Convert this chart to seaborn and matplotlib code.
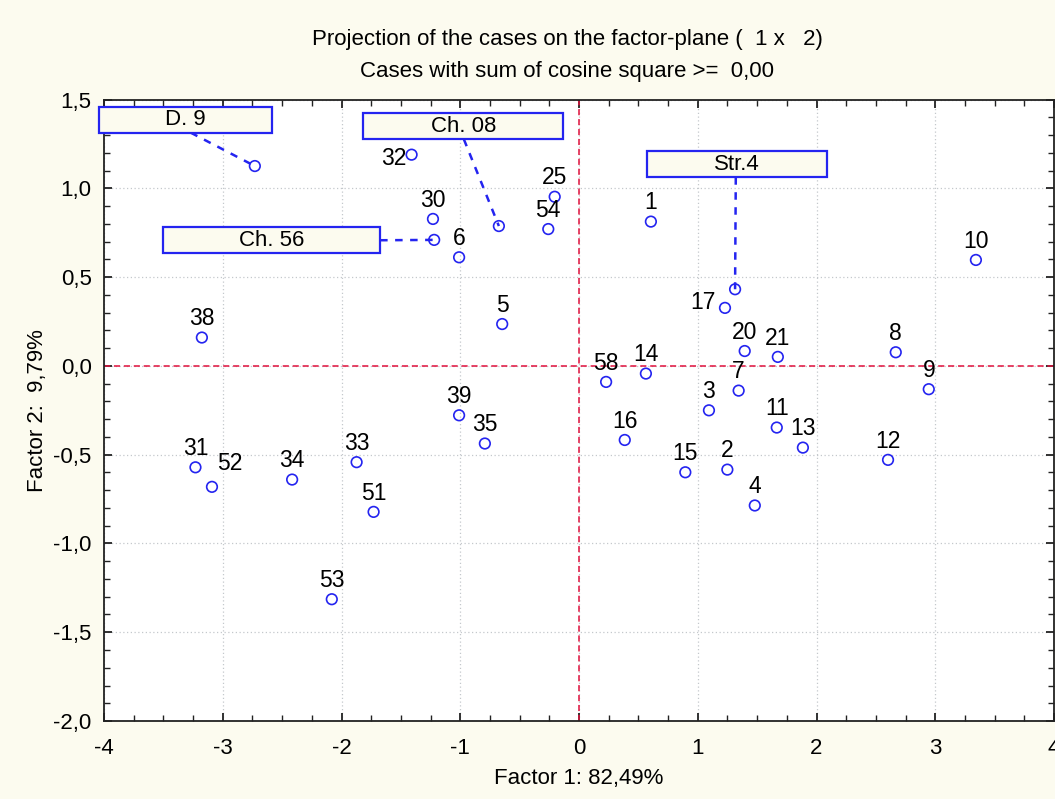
import matplotlib
matplotlib.use("Agg")
import matplotlib.pyplot as plt
import matplotlib.ticker as mticker
from matplotlib.patches import Rectangle
import numpy as np
import pandas as pd
import seaborn as sns

# Case coordinates on the first two factors
case_labels = ['1', '2', '3', '4', '5', '6', '7', '8', '9', '10', '11', '12', '13',
               '14', '15', '16', '17', '20', '21', '25', '30', '31', '32', '33',
               '34', '35', '38', '39', '51', '52', '53', '54', '58',
               'D. 9', 'Ch. 08', 'Ch. 56', 'Str.4']
factor1 = [0.605, 1.249, 1.094, 1.480, -0.647, -1.010, 1.344, 2.667, 2.945, 3.342,
           1.665, 2.602, 1.885, 0.563, 0.895, 0.385, 1.229, 1.395, 1.674, -0.205,
           -1.230, -3.230, -1.410, -1.873, -2.416, -0.793, -3.176, -1.010, -1.730,
           -3.091, -2.082, -0.259, 0.228,
           -2.730, -0.675, -1.220, 1.314]
factor2 = [0.813, -0.584, -0.250, -0.786, 0.236, 0.612, -0.139, 0.077, -0.131, 0.597,
           -0.347, -0.529, -0.460, -0.043, -0.599, -0.417, 0.327, 0.084, 0.051, 0.953,
           0.828, -0.571, 1.190, -0.542, -0.640, -0.437, 0.160, -0.278, -0.822,
           -0.681, -1.314, 0.771, -0.090,
           1.126, 0.788, 0.710, 0.432]

# Cases shown with a framed callout instead of a plain number
callout_cases = ['D. 9', 'Ch. 08', 'Ch. 56', 'Str.4']

title_lines = ["Projection of the cases on the factor-plane (  1 x   2)",
               "Cases with sum of cosine square >=  0,00"]
x_title = "Factor 1: 82,49%"
y_title = "Factor 2:  9,79%"

df = pd.DataFrame({"case": case_labels, "f1": factor1, "f2": factor2})

BG = "#FCFBEF"
BLUE = "#2424F0"
RED = "#E0103C"

sns.set_style("ticks")
plt.rcParams["font.family"] = ["Liberation Sans", "DejaVu Sans"]
plt.rcParams["axes.linewidth"] = 1.3
plt.rcParams["text.color"] = "black"
plt.rcParams["axes.labelcolor"] = "black"

fig = plt.figure(figsize=(10.55, 7.99), dpi=100, facecolor=BG)
ax = fig.add_axes([0.0986, 0.0976, 0.9005, 0.7777])
ax.set_facecolor("white")

sns.scatterplot(data=df, x="f1", y="f2", ax=ax, marker="o", s=58,
                facecolors="none", edgecolor=BLUE, linewidth=1.2, zorder=4,
                legend=False)

ax.set_xlim(-4, 4)
ax.set_ylim(-2, 1.5)
ax.xaxis.set_major_locator(mticker.MultipleLocator(1))
ax.xaxis.set_minor_locator(mticker.MultipleLocator(0.25))
ax.yaxis.set_major_locator(mticker.MultipleLocator(0.5))
ax.yaxis.set_minor_locator(mticker.MultipleLocator(0.1))
ax.xaxis.set_major_formatter(mticker.FuncFormatter(lambda v, p: f"{v:.0f}"))
ax.yaxis.set_major_formatter(
    mticker.FuncFormatter(lambda v, p: f"{v:.1f}".replace(".", ",")))
ax.tick_params(which="both", direction="in", top=True, right=True,
               color="#222222", labelsize=16, labelcolor="black")
ax.tick_params(which="major", length=6, width=1.3)
ax.tick_params(axis="x", which="major", pad=12)
ax.tick_params(axis="y", which="major", pad=9)
ax.tick_params(which="minor", length=4, width=1.0)
for s in ax.spines.values():
    s.set_color("#222222")

ax.grid(True, which="major", linestyle=(0, (1, 2)), color="#C4C8CC", linewidth=0.9)
ax.axhline(0, color=RED, linestyle=(0, (4, 2.5)), linewidth=1.1, zorder=2)
ax.axvline(0, color=RED, linestyle=(0, (4, 2.5)), linewidth=1.1, zorder=2)

ax.set_xlabel(x_title, fontsize=16, labelpad=7)
ax.set_ylabel(y_title, fontsize=16, labelpad=4)

# Number labels: centred above the marker, a few shifted sideways
label_offsets = {'32': (-4, -3, 'right'), '17': (-7, 4, 'right'),
                 '52': (13, 17, 'center')}
for lab, x, y in zip(case_labels, factor1, factor2):
    if lab in callout_cases:
        continue
    dx, dy, ha = label_offsets.get(lab, (0, 13.5, 'center'))
    ax.annotate(lab, (x, y), xytext=(dx, dy), textcoords="offset points",
                ha=ha, va="center", fontsize=16.5, color="black", zorder=5)

# Framed callouts: box centre, box width and where the leader line leaves it
callout_layout = {
    'D. 9':   dict(cx=-3.312, cy=1.387, w=1.46, ax_=-3.27, ay=1.314),
    'Ch. 08': dict(cx=-0.975, cy=1.350, w=1.68, ax_=-0.97, ay=1.277),
    'Ch. 56': dict(cx=-2.587, cy=0.708, w=1.825, ax_=-1.675, ay=0.708),
    'Str.4':  dict(cx=1.329, cy=1.136, w=1.52, ax_=1.32, ay=1.063),
}
box_h = 0.146
for lab, x, y in zip(case_labels, factor1, factor2):
    if lab not in callout_layout:
        continue
    c = callout_layout[lab]
    rect = Rectangle((c['cx'] - c['w'] / 2, c['cy'] - box_h / 2), c['w'], box_h,
                     facecolor=BG, edgecolor=BLUE, linewidth=1.6,
                     clip_on=False, zorder=6)
    ax.add_patch(rect)
    ax.text(c['cx'], c['cy'], lab, ha="center", va="center", fontsize=16,
            color="black", zorder=7, clip_on=False)
    ax.plot([c['ax_'], x], [c['ay'], y], color=BLUE, linestyle=(0, (3, 3)),
            linewidth=1.8, zorder=5)

fig.text(0.5375, 0.951, title_lines[0], ha="center", va="center", fontsize=16)
fig.text(0.5375, 0.911, title_lines[1], ha="center", va="center", fontsize=16)

fig.savefig("out.png", dpi=100, facecolor=BG)
